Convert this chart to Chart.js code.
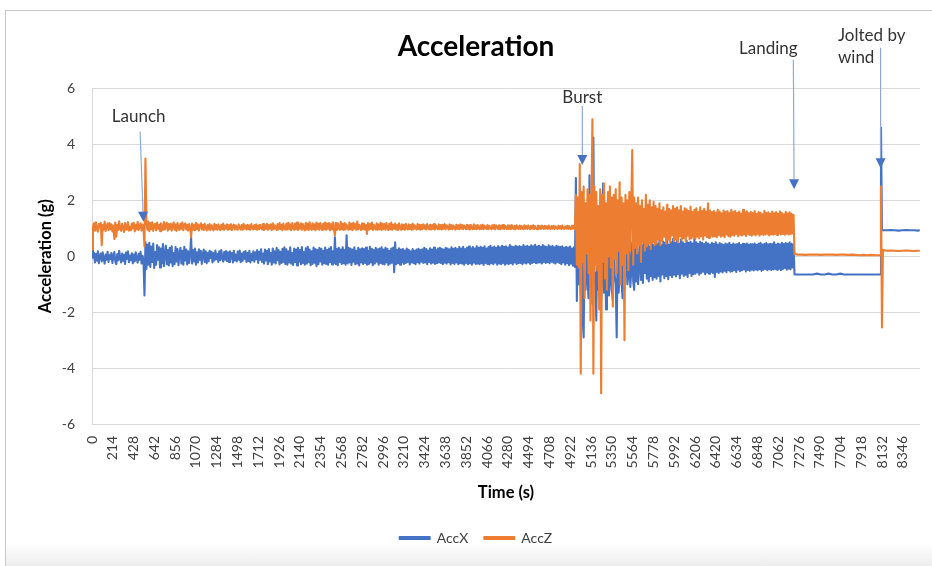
<!DOCTYPE html>
<html><head><meta charset="utf-8">
<script src="https://cdn.jsdelivr.net/npm/chart.js@4.4.1/dist/chart.umd.min.js"></script>
<style>
html,body{margin:0;padding:0;background:#fff;}
#wrap{position:relative;width:932px;height:566px;overflow:hidden;background:#fff;}
#frame{position:absolute;left:5px;top:10px;right:0;bottom:0;border-top:1px solid #c8c8c8;border-left:1px solid #c8c8c8;background:linear-gradient(to bottom,#fff 0,#fff 532px,#ececec 556px);}
#c{position:absolute;left:0;top:0;}
</style></head><body>
<div id="wrap"><div id="frame"></div><canvas id="c" width="932" height="566"></canvas></div>
<script>
// Time (s) categories
const timeS = [
0,10,20,30,40,50,60,70,80,90,100,110,120,130,140,150,160,170,180,190,
200,210,220,230,240,250,260,270,280,290,300,310,320,330,340,350,360,370,380,390,
400,410,420,430,440,450,460,470,480,490,500,510,520,530,540,550,560,570,580,590,
600,610,620,630,640,650,660,670,680,690,700,710,720,730,740,750,760,770,780,790,
800,810,820,830,840,850,860,870,880,890,900,910,920,930,940,950,960,970,980,990,
1000,1010,1020,1030,1040,1050,1060,1070,1080,1090,1100,1110,1120,1130,1140,1150,1160,1170,1180,1190,
1200,1210,1220,1230,1240,1250,1260,1270,1280,1290,1300,1310,1320,1330,1340,1350,1360,1370,1380,1390,
1400,1410,1420,1430,1440,1450,1460,1470,1480,1490,1500,1510,1520,1530,1540,1550,1560,1570,1580,1590,
1600,1610,1620,1630,1640,1650,1660,1670,1680,1690,1700,1710,1720,1730,1740,1750,1760,1770,1780,1790,
1800,1810,1820,1830,1840,1850,1860,1870,1880,1890,1900,1910,1920,1930,1940,1950,1960,1970,1980,1990,
2000,2010,2020,2030,2040,2050,2060,2070,2080,2090,2100,2110,2120,2130,2140,2150,2160,2170,2180,2190,
2200,2210,2220,2230,2240,2250,2260,2270,2280,2290,2300,2310,2320,2330,2340,2350,2360,2370,2380,2390,
2400,2410,2420,2430,2440,2450,2460,2470,2480,2490,2500,2510,2520,2530,2540,2550,2560,2570,2580,2590,
2600,2610,2620,2630,2640,2650,2660,2670,2680,2690,2700,2710,2720,2730,2740,2750,2760,2770,2780,2790,
2800,2810,2820,2830,2840,2850,2860,2870,2880,2890,2900,2910,2920,2930,2940,2950,2960,2970,2980,2990,
3000,3010,3020,3030,3040,3050,3060,3070,3080,3090,3100,3110,3120,3130,3140,3150,3160,3170,3180,3190,
3200,3210,3220,3230,3240,3250,3260,3270,3280,3290,3300,3310,3320,3330,3340,3350,3360,3370,3380,3390,
3400,3410,3420,3430,3440,3450,3460,3470,3480,3490,3500,3510,3520,3530,3540,3550,3560,3570,3580,3590,
3600,3610,3620,3630,3640,3650,3660,3670,3680,3690,3700,3710,3720,3730,3740,3750,3760,3770,3780,3790,
3800,3810,3820,3830,3840,3850,3860,3870,3880,3890,3900,3910,3920,3930,3940,3950,3960,3970,3980,3990,
4000,4010,4020,4030,4040,4050,4060,4070,4080,4090,4100,4110,4120,4130,4140,4150,4160,4170,4180,4190,
4200,4210,4220,4230,4240,4250,4260,4270,4280,4290,4300,4310,4320,4330,4340,4350,4360,4370,4380,4390,
4400,4410,4420,4430,4440,4450,4460,4470,4480,4490,4500,4510,4520,4530,4540,4550,4560,4570,4580,4590,
4600,4610,4620,4630,4640,4650,4660,4670,4680,4690,4700,4710,4720,4730,4740,4750,4760,4770,4780,4790,
4800,4810,4820,4830,4840,4850,4860,4870,4880,4890,4900,4910,4920,4930,4940,4950,4960,4970,4980,4990,
5000,5010,5020,5030,5040,5050,5060,5070,5080,5090,5100,5110,5120,5130,5140,5150,5160,5170,5180,5190,
5200,5210,5220,5230,5240,5250,5260,5270,5280,5290,5300,5310,5320,5330,5340,5350,5360,5370,5380,5390,
5400,5410,5420,5430,5440,5450,5460,5470,5480,5490,5500,5510,5520,5530,5540,5550,5560,5570,5580,5590,
5600,5610,5620,5630,5640,5650,5660,5670,5680,5690,5700,5710,5720,5730,5740,5750,5760,5770,5780,5790,
5800,5810,5820,5830,5840,5850,5860,5870,5880,5890,5900,5910,5920,5930,5940,5950,5960,5970,5980,5990,
6000,6010,6020,6030,6040,6050,6060,6070,6080,6090,6100,6110,6120,6130,6140,6150,6160,6170,6180,6190,
6200,6210,6220,6230,6240,6250,6260,6270,6280,6290,6300,6310,6320,6330,6340,6350,6360,6370,6380,6390,
6400,6410,6420,6430,6440,6450,6460,6470,6480,6490,6500,6510,6520,6530,6540,6550,6560,6570,6580,6590,
6600,6610,6620,6630,6640,6650,6660,6670,6680,6690,6700,6710,6720,6730,6740,6750,6760,6770,6780,6790,
6800,6810,6820,6830,6840,6850,6860,6870,6880,6890,6900,6910,6920,6930,6940,6950,6960,6970,6980,6990,
7000,7010,7020,7030,7040,7050,7060,7070,7080,7090,7100,7110,7120,7130,7140,7150,7160,7170,7180,7190,
7200,7210,7220,
7230,7260,7300,7340,7380,7420,7460,7500,7540,7580,7620,7660,7700,7740,7780,7820,7860,7900,7940,7980,8020,8060,8100,
8110,8120,8130,
8140,8180,8220,8260,8300,8340,8380,8420,8460,8500,8520
];

// AccX (g)
const accX = [
0.45,-0.05,0.12,-0.22,0.08,-0.15,0.18,-0.25,0.02,0.10,-0.18,0.14,-0.08,-0.26,0.06,-0.12,0.16,-0.20,0.04,-0.10,
0.12,-0.24,0.02,0.15,-0.18,-0.28,0.08,-0.14,0.20,-0.06,-0.22,0.10,-0.16,0.05,-0.27,0.13,-0.09,0.18,-0.21,0.03,
-0.14,0.11,-0.25,0.06,-0.18,0.14,-0.08,-0.23,0.09,-0.12,0.16,-0.26,0.02,-0.15,-1.40,0.50,-0.45,0.42,-0.30,0.48,
-0.38,0.35,-0.20,0.46,-0.42,0.15,-0.30,0.40,-0.12,0.32,-0.40,0.28,-0.25,0.44,-0.35,0.10,0.38,-0.28,0.22,-0.33,
0.30,-0.22,0.36,-0.35,0.12,-0.28,0.33,-0.18,0.26,-0.32,0.08,0.30,-0.26,0.20,-0.30,0.34,-0.15,0.24,-0.29,0.18,
-0.24,0.10,0.68,-0.26,0.22,-0.18,0.28,-0.30,0.14,-0.22,0.25,-0.12,0.20,-0.27,0.06,0.24,-0.20,0.18,-0.25,0.12,
-0.18,0.20,-0.06,0.16,-0.22,0.12,-0.15,0.21,-0.10,0.08,-0.20,0.18,-0.14,0.22,-0.05,-0.19,0.15,-0.12,0.19,-0.17,
0.14,-0.20,0.18,-0.08,0.12,-0.22,0.20,-0.15,0.06,-0.18,0.17,-0.12,0.21,-0.21,0.10,-0.16,0.15,-0.09,0.19,-0.20,
0.12,-0.17,0.20,-0.22,0.08,-0.14,0.18,-0.19,0.14,-0.10,0.22,-0.24,0.16,-0.12,0.25,-0.20,0.10,-0.26,0.24,-0.15,
0.20,-0.28,0.26,-0.18,0.12,-0.30,0.28,-0.22,0.18,-0.26,0.30,-0.14,0.22,-0.29,0.16,-0.24,0.27,-0.20,0.32,-0.27,
0.25,-0.30,0.18,-0.22,0.32,-0.26,0.12,-0.31,0.28,-0.20,0.24,-0.33,0.30,-0.18,0.22,-0.28,0.33,-0.24,0.15,-0.30,
0.29,-0.26,0.34,-0.20,0.24,-0.32,0.18,-0.27,0.31,-0.23,0.26,-0.35,0.22,-0.28,0.30,-0.18,0.27,-0.30,0.20,-0.25,
0.31,-0.27,0.22,-0.30,0.28,-0.21,0.33,-0.29,0.18,-0.24,0.68,-0.28,0.26,-0.32,0.30,-0.20,0.24,-0.27,0.32,-0.25,
0.22,-0.30,0.75,-0.26,0.30,-0.22,0.28,-0.31,0.24,-0.19,0.32,-0.28,0.20,-0.26,0.30,-0.33,0.25,-0.22,0.29,-0.27,
0.26,-0.24,0.31,-0.30,0.20,-0.27,0.34,-0.22,0.27,-0.32,0.22,-0.26,0.30,-0.19,0.25,-0.30,0.28,-0.24,0.32,-0.27,
0.24,-0.29,0.30,-0.22,0.27,-0.31,0.20,-0.26,0.28,-0.23,0.31,-0.57,0.50,-0.28,0.22,-0.25,0.29,-0.30,0.24,-0.21,
0.26,-0.27,0.21,-0.24,0.28,-0.20,0.23,-0.29,0.18,-0.22,0.26,-0.25,0.20,-0.28,0.24,-0.21,0.27,-0.26,0.22,-0.19,
0.25,-0.24,0.30,-0.22,0.26,-0.28,0.21,-0.20,0.29,-0.26,0.24,-0.23,0.31,-0.27,0.22,-0.25,0.28,-0.22,0.30,-0.24,
0.27,-0.28,0.24,-0.23,0.30,-0.26,0.28,-0.21,0.25,-0.29,0.32,-0.24,0.27,-0.27,0.30,-0.22,0.26,-0.28,0.33,-0.25,
0.28,-0.26,0.34,-0.30,0.26,-0.24,0.31,-0.28,0.35,-0.25,0.29,-0.30,0.33,-0.23,0.28,-0.27,0.36,-0.26,0.30,-0.28,
0.34,-0.25,0.30,-0.31,0.36,-0.24,0.28,-0.27,0.33,-0.29,0.38,-0.25,0.31,-0.28,0.35,-0.23,0.30,-0.30,0.37,-0.26,
0.32,-0.28,0.38,-0.24,0.34,-0.30,0.36,-0.26,0.31,-0.27,0.40,-0.25,0.35,-0.29,0.33,-0.22,0.38,-0.27,0.34,-0.25,
0.37,-0.24,0.33,-0.28,0.40,-0.23,0.35,-0.26,0.38,-0.22,0.34,-0.27,0.39,-0.24,0.36,-0.21,0.41,-0.25,0.35,-0.23,
0.38,-0.22,0.34,-0.26,0.40,-0.20,0.36,-0.24,0.33,-0.21,0.39,-0.25,0.35,-0.19,0.37,-0.23,0.32,-0.26,0.38,-0.20,
0.35,-0.24,0.33,-0.28,0.36,-0.22,0.30,-0.30,0.34,-0.25,0.31,-0.32,0.35,-0.26,0.28,-0.34,0.32,-0.38,2.80,-1.60,
1.20,-1.00,0.30,-1.40,0.80,-2.20,-2.90,0.60,-1.20,1.00,-0.80,-1.50,2.90,-1.10,0.50,-1.70,4.25,-1.00,-0.60,-2.30,
1.00,-1.20,-0.40,0.90,-1.60,-0.80,2.60,-1.30,0.70,-1.90,-0.50,0.80,-1.40,-0.90,0.60,-1.20,-1.60,0.70,-0.70,-1.00,
-2.90,0.60,-1.30,-0.60,0.70,-0.90,-1.50,0.50,-1.20,-0.40,0.60,-1.00,-0.70,0.55,-1.10,-0.50,0.50,-0.90,-1.20,0.45,
-0.90,0.55,-1.00,-0.40,0.60,-0.85,0.40,-0.95,0.50,-0.60,0.45,-0.80,0.55,-0.90,0.35,-0.70,0.50,-0.85,0.40,-0.75,
0.55,-0.80,0.45,-0.70,0.60,-0.90,0.40,-0.65,0.52,-0.78,0.48,-0.70,0.58,-0.82,0.42,-0.68,0.50,-0.75,0.62,-0.66,
0.48,-0.72,0.55,-0.64,0.45,-0.78,0.60,-0.62,0.50,-0.70,0.44,-0.66,0.56,-0.74,0.48,-0.60,0.52,-0.70,0.46,-0.64,
0.70,-0.62,0.50,-0.58,0.45,-0.66,0.52,-0.60,0.48,-0.55,0.44,-0.64,0.50,-0.58,0.46,-0.62,0.42,-0.56,0.48,-0.60,
0.45,-0.74,0.50,-0.56,0.42,-0.60,0.47,-0.54,0.44,-0.58,0.40,-0.52,0.46,-0.57,0.43,-0.50,0.48,-0.55,0.41,-0.53,
0.46,-0.50,0.42,-0.56,0.44,-0.48,0.47,-0.53,0.40,-0.50,0.45,-0.47,0.43,-0.54,0.46,-0.49,0.42,-0.52,0.44,-0.48,
0.43,-0.51,0.46,-0.47,0.41,-0.50,0.45,-0.46,0.48,-0.52,0.42,-0.48,0.44,-0.45,0.47,-0.50,0.43,-0.46,0.45,-0.49,
0.44,-0.47,0.50,-0.45,0.42,-0.48,0.46,-0.44,0.43,-0.50,0.48,-0.46,0.44,-0.42,0.47,-0.48,0.45,-0.44,0.50,-0.46,
0.45,-0.40,0.42,
-0.65,-0.65,-0.65,-0.65,-0.65,-0.65,-0.62,-0.65,-0.65,-0.62,-0.65,-0.65,-0.62,-0.65,-0.65,-0.65,-0.65,-0.65,-0.65,-0.65,-0.65,-0.65,-0.65,
-0.65,4.60,0.93,
0.93,0.93,0.94,0.93,0.92,0.93,0.94,0.93,0.93,0.92,0.93
];

// AccZ (g)
const accZ = [
0.25,1.05,1.18,0.92,1.22,0.98,0.88,1.15,1.02,1.20,0.40,1.12,0.95,1.24,0.90,1.08,1.17,0.93,1.19,0.97,
1.14,0.89,1.10,0.62,1.21,0.70,1.13,0.94,1.25,0.99,0.91,1.16,1.03,0.87,1.19,0.96,1.11,1.22,0.92,1.06,
0.93,1.17,1.01,1.20,0.89,1.12,0.97,1.23,0.94,1.08,1.18,0.92,1.14,1.00,0.35,3.50,1.28,0.95,1.24,0.90,
1.19,0.97,1.22,0.91,1.10,1.16,0.93,1.21,0.99,1.13,0.90,1.18,1.04,0.94,1.23,0.96,1.12,1.20,0.92,1.15,
0.98,1.17,0.92,1.09,1.21,0.95,1.14,0.91,1.19,1.03,0.94,1.16,0.99,1.22,0.93,1.11,1.18,0.96,1.13,0.92,
1.15,1.02,0.68,1.17,0.95,1.12,0.93,1.20,0.98,1.14,0.92,1.10,1.18,0.96,1.13,0.94,1.16,1.01,0.93,1.12,
0.96,1.15,0.94,1.11,1.03,0.93,1.16,0.97,1.12,0.95,1.14,1.00,0.94,1.13,0.97,1.17,0.95,1.10,0.99,1.14,
0.95,1.12,0.97,1.15,0.94,1.09,1.13,0.96,1.11,0.98,0.95,1.14,1.02,0.96,1.12,0.95,1.16,0.99,1.10,0.96,
1.13,0.97,1.11,0.95,1.15,1.01,0.96,1.12,0.98,1.14,0.95,1.10,0.97,1.13,1.04,0.96,1.15,0.94,1.11,0.98,
1.16,0.95,1.12,0.99,1.14,0.94,1.18,0.97,1.11,1.03,0.94,1.15,0.96,1.19,0.98,1.13,0.93,1.17,1.00,0.95,
1.16,0.96,1.20,0.98,1.14,0.93,1.19,1.02,0.95,1.17,0.97,1.21,0.94,1.13,0.99,1.18,0.95,1.15,1.01,0.93,
1.20,0.96,1.16,0.94,1.22,1.00,0.95,1.18,0.97,1.14,0.93,1.21,0.98,1.16,0.95,1.19,1.02,0.94,1.17,0.96,
1.21,0.95,1.17,0.99,1.19,0.93,1.15,0.97,1.22,0.96,0.75,1.20,0.94,1.18,1.01,0.95,1.23,0.97,1.16,0.94,
1.19,0.96,1.14,1.02,0.95,1.21,0.97,1.16,0.93,1.20,0.99,1.15,0.95,1.24,0.96,1.13,1.03,0.94,1.18,0.97,
1.17,0.96,1.12,0.80,1.19,0.95,1.15,0.98,1.21,0.94,1.13,1.00,0.96,1.18,0.95,1.14,0.97,1.20,0.94,1.16,
0.98,1.15,0.95,1.19,1.01,0.94,1.16,0.97,1.21,0.95,1.13,0.99,1.17,0.96,1.12,0.94,1.18,1.02,0.95,1.14,
0.97,1.13,0.95,1.16,1.00,0.96,1.14,0.98,1.12,0.95,1.17,0.97,1.11,1.03,0.96,1.15,0.98,1.13,0.95,1.12,
0.97,1.14,0.99,1.11,0.96,1.15,1.02,0.97,1.13,0.96,1.12,0.98,1.15,0.96,1.11,1.01,0.97,1.14,0.98,1.12,
0.96,1.13,0.99,1.15,0.97,1.11,1.04,0.96,1.14,0.98,1.12,0.97,1.10,1.02,0.96,1.13,0.98,1.11,0.97,1.14,
0.99,1.12,0.97,1.10,1.03,0.97,1.13,0.98,1.11,0.96,1.12,1.00,0.97,1.14,0.98,1.10,0.97,1.12,1.01,0.97,
1.11,0.98,1.13,0.97,1.10,1.02,0.98,1.12,0.97,1.09,1.01,0.97,1.11,0.99,1.13,0.97,1.10,1.03,0.98,1.11,
0.97,1.10,0.99,1.12,0.98,1.09,1.02,0.97,1.11,0.98,1.10,0.97,1.12,1.00,0.98,1.09,0.97,1.11,1.01,0.98,
1.10,0.98,1.09,1.01,0.97,1.11,0.99,1.08,0.98,1.10,1.02,0.97,1.09,0.99,1.11,0.98,1.08,1.01,0.97,1.10,
0.99,1.08,0.98,1.10,1.01,0.98,1.09,0.99,1.07,0.98,1.10,1.00,0.98,1.08,0.99,1.09,0.98,1.07,1.01,0.98,
1.09,0.99,1.08,0.98,1.10,1.00,0.98,1.07,0.99,1.09,0.98,1.08,1.00,0.97,1.09,0.99,1.08,0.98,2.20,-0.30,
2.10,-0.40,3.30,-4.20,2.30,-0.20,2.50,-1.50,1.90,0.10,2.40,-0.60,2.20,-2.30,2.00,4.90,-4.20,2.50,-0.30,2.30,
-0.50,1.80,-1.90,2.40,-4.90,2.20,-0.20,2.60,-0.80,1.90,-1.20,2.30,0.00,2.50,-0.40,2.10,-1.80,2.20,-0.10,2.40,
-0.60,2.00,0.20,2.65,-1.00,2.10,-0.30,1.90,-3.00,2.20,0.10,2.00,-0.50,2.30,0.20,1.80,3.80,-0.30,2.10,0.30,
1.90,0.10,2.10,0.40,1.80,-0.20,2.00,0.50,1.70,0.20,2.20,0.35,1.85,0.45,2.00,0.25,1.75,0.50,1.95,0.40,
1.80,0.45,1.70,0.60,1.90,0.40,1.65,0.55,1.75,0.70,1.60,0.45,1.85,0.60,1.70,0.50,1.65,0.75,1.80,0.55,
1.70,0.60,1.75,0.50,1.65,0.72,1.80,0.58,1.60,0.66,1.72,0.55,1.68,0.74,1.62,0.60,1.78,0.65,1.58,0.70,
1.66,0.62,1.72,0.70,1.58,0.64,1.75,0.72,1.62,0.60,1.70,0.75,1.60,0.68,1.90,0.66,1.64,0.74,1.58,0.70,
1.62,0.72,1.56,0.68,1.66,0.76,1.60,0.70,1.54,0.74,1.64,0.68,1.58,0.78,1.62,0.72,1.55,0.70,1.66,0.76,
1.58,0.74,1.62,0.80,1.55,0.72,1.60,0.77,1.53,0.75,1.66,0.78,1.57,0.73,1.61,0.80,1.54,0.76,1.59,0.74,
1.55,0.78,1.62,0.75,1.52,0.80,1.58,0.74,1.56,0.79,1.50,0.76,1.63,0.78,1.55,0.81,1.57,0.75,1.52,0.79,
1.60,0.77,1.54,0.80,1.58,0.76,1.52,0.82,1.61,0.78,1.55,0.80,1.50,0.77,1.59,0.81,1.53,0.78,1.57,0.80,
1.52,0.82,1.48,
0.08,0.06,0.06,0.05,0.06,0.06,0.06,0.05,0.06,0.06,0.06,0.05,0.06,0.06,0.05,0.06,0.05,0.04,0.05,0.04,0.05,0.04,0.04,
0.04,2.50,-2.55,
0.22,0.20,0.21,0.20,0.19,0.20,0.21,0.20,0.19,0.20,0.20
];

// x-axis tick labels
const tickLabels = [0,214,428,642,856,1070,1284,1498,1712,1926,2140,2354,2568,2782,2996,3210,3424,3638,3852,4066,
4280,4494,4708,4922,5136,5350,5564,5778,5992,6206,6420,6634,6848,7062,7276,7490,7704,7918,8132,8346];

// Callouts (anchored in data units)
const notes = [
  {lines:['Launch'], align:'center', textT:481, textV:[4.79], fromT:495, fromV:4.46, toT:529, toV:1.24},
  {lines:['Burst'], align:'center', textT:5046, textV:[5.50], fromT:5046, fromV:5.38, toT:5046, toV:3.27},
  {lines:['Landing'], align:'center', textT:6960, textV:[7.24], fromT:7218, fromV:7.03, toT:7226, toV:2.40},
  {lines:['Jolted by','wind'], align:'left', textT:7677, textV:[7.72,6.92], fromT:8116, fromV:7.46, toT:8116, toV:3.15}
];

const annotPlugin = {
  id:'annot',
  afterDraw(chart){
    const {ctx, scales:{x, y}} = chart;
    ctx.save();
    notes.forEach(n => {
      const x1 = x.getPixelForValue(n.fromT), y1 = y.getPixelForValue(n.fromV);
      const x2 = x.getPixelForValue(n.toT), y2 = y.getPixelForValue(n.toV);
      const a = Math.atan2(y2 - y1, x2 - x1), L = 10, W = 5;
      const bx = x2 - Math.cos(a) * L, by = y2 - Math.sin(a) * L;
      ctx.strokeStyle = '#8eaadb'; ctx.lineWidth = 1.2;
      ctx.beginPath(); ctx.moveTo(x1, y1); ctx.lineTo(bx, by); ctx.stroke();
      ctx.fillStyle = '#4472C4';
      ctx.beginPath(); ctx.moveTo(x2, y2);
      ctx.lineTo(bx + Math.sin(a) * W, by - Math.cos(a) * W);
      ctx.lineTo(bx - Math.sin(a) * W, by + Math.cos(a) * W);
      ctx.closePath(); ctx.fill();
      ctx.fillStyle = '#333333'; ctx.font = '17px Lato';
      ctx.textAlign = n.align; ctx.textBaseline = 'alphabetic';
      n.lines.forEach((s, k) => ctx.fillText(s, x.getPixelForValue(n.textT), y.getPixelForValue(n.textV[k])));
    });
    ctx.restore();
  }
};

Chart.defaults.font.family = 'Lato, "Open Sans", sans-serif';
Chart.defaults.color = '#404040';

const toPoints = vals => timeS.map((t, i) => ({x: t, y: vals[i]}));

new Chart(document.getElementById('c'), {
  type: 'line',
  data: {
    datasets: [
      {label:'AccX', data: toPoints(accX), borderColor:'#4472C4', backgroundColor:'#4472C4', borderWidth:2.1, borderJoinStyle:'round', pointRadius:0, tension:0, order:1},
      {label:'AccZ', data: toPoints(accZ), borderColor:'#ED7D31', backgroundColor:'#ED7D31', borderWidth:2.1, borderJoinStyle:'round', pointRadius:0, tension:0, order:0}
    ]
  },
  options: {
    responsive:false, animation:false, events:[],
    layout:{padding:{left:32, right:12, top:0, bottom:11}},
    plugins:{
      title:{display:true, text:'Acceleration', color:'#000', font:{size:28, weight:'bold'}, padding:{top:30, bottom:25}},
      legend:{position:'bottom', labels:{boxWidth:30, boxHeight:2, padding:16, font:{size:14}, color:'#404040',
        sort:(a, b) => a.datasetIndex - b.datasetIndex}},
      tooltip:{enabled:false}
    },
    scales:{
      x:{type:'linear', min:0, max:8521,
        grid:{display:false, drawTicks:false},
        border:{display:true, color:'#D9D9D9'},
        ticks:{autoSkip:false, minRotation:90, maxRotation:90, padding:12, font:{size:14}, color:'#404040',
          callback: v => String(v)},
        afterBuildTicks: s => { s.ticks = tickLabels.map(v => ({value: v})); },
        afterFit: s => { s.height = 91; },
        title:{display:true, text:'Time (s)', color:'#000', font:{size:16.5, weight:'bold'}, padding:{top:4, bottom:12}}
      },
      y:{min:-6, max:6,
        ticks:{stepSize:2, padding:17, font:{size:14}, color:'#404040'},
        grid:{color:'#D9D9D9', drawTicks:false},
        border:{display:true, color:'#D9D9D9'},
        afterFit: s => { s.width = 60; },
        title:{display:true, text:'Acceleration (g)', color:'#000', font:{size:16.5, weight:'bold'}, padding:{top:4, bottom:0}}
      }
    }
  },
  plugins:[annotPlugin]
});
</script></body></html>
